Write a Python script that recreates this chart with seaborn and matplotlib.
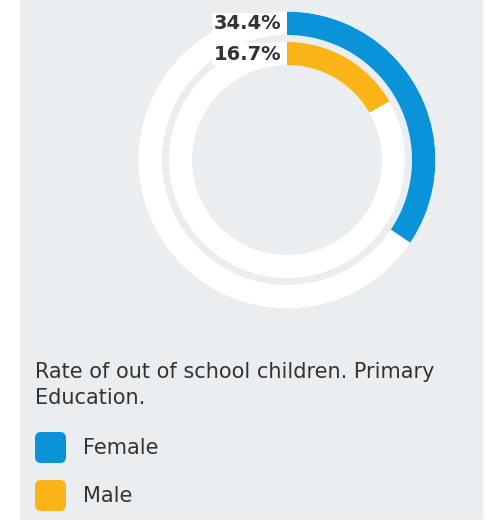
import numpy as np
import matplotlib
matplotlib.use("Agg")
import matplotlib.pyplot as plt
import seaborn as sns
from matplotlib.patches import Rectangle, FancyBboxPatch

# ---- data ----
categories = ["Female", "Male"]
values = [34.4, 16.7]          # percent
value_labels = ["34.4%", "16.7%"]
title_text = "Rate of out of school children. Primary\nEducation."
colors = ["#0a93d8", "#fab417"]

sns.set_theme(style="white")
plt.rcParams["font.family"] = ["DejaVu Sans"]

W, H = 489, 526
fig = plt.figure(figsize=(W / 100, H / 100), dpi=100)
fig.patch.set_facecolor("white")
bg = "#ebeef1"
fig.patches.append(Rectangle((20 / W, 6 / H), 463 / W, 520 / H,
                             transform=fig.transFigure, facecolor=bg,
                             edgecolor="none", zorder=-10))

def px(x, y):
    return x / W, 1 - y / H

# polar axes centered at (287,160) px with radius 148.5 px
cx, cy, R = 287, 160, 148.5
ax = fig.add_axes([(cx - R) / W, (H - cy - R) / H, 2 * R / W, 2 * R / H],
                  projection="polar")
ax.set_facecolor("none")
ax.set_theta_zero_location("N")
ax.set_theta_direction(-1)
ax.set_ylim(0, R)
ax.set_xticks([]); ax.set_yticks([])
ax.grid(False)
ax.spines["polar"].set_visible(False)

rings = [(125.0, 23.5), (95.0, 23.0)]  # (inner radius, thickness) in px units
for (r0, t), val, col, lab in zip(rings, values, colors, value_labels):
    ax.bar(0, t, width=2 * np.pi, bottom=r0, align="edge",
           color="white", edgecolor="none", zorder=1)
    ax.bar(0, t, width=val / 100 * 2 * np.pi, bottom=r0, align="edge",
           color=col, edgecolor="none", zorder=2)
    ax.annotate(lab, xy=(0, r0 + t / 2), xytext=(-4, -0.5),
                textcoords="offset points", ha="right", va="center",
                fontsize=14, fontweight="bold",
                color="#333333", zorder=3,
                bbox=dict(boxstyle="square,pad=0.08", fc="white", ec="none"))

# title
fig.text(*px(35, 362), title_text, ha="left", va="top", fontsize=15,
         color="#333333", linespacing=1.38)

# legend
leg_y = [432, 480]
for cat, col, y in zip(categories, colors, leg_y):
    x0, y0 = px(35, y + 31)
    fig.patches.append(FancyBboxPatch((x0, y0), 31 / W, 31 / H,
                                      boxstyle="round,pad=0,rounding_size=0.012",
                                      transform=fig.transFigure,
                                      facecolor=col, edgecolor="none"))
    fig.text(*px(83, y + 16), cat, ha="left", va="center", fontsize=15,
             color="#333333")

fig.savefig("out.png", dpi=100)
